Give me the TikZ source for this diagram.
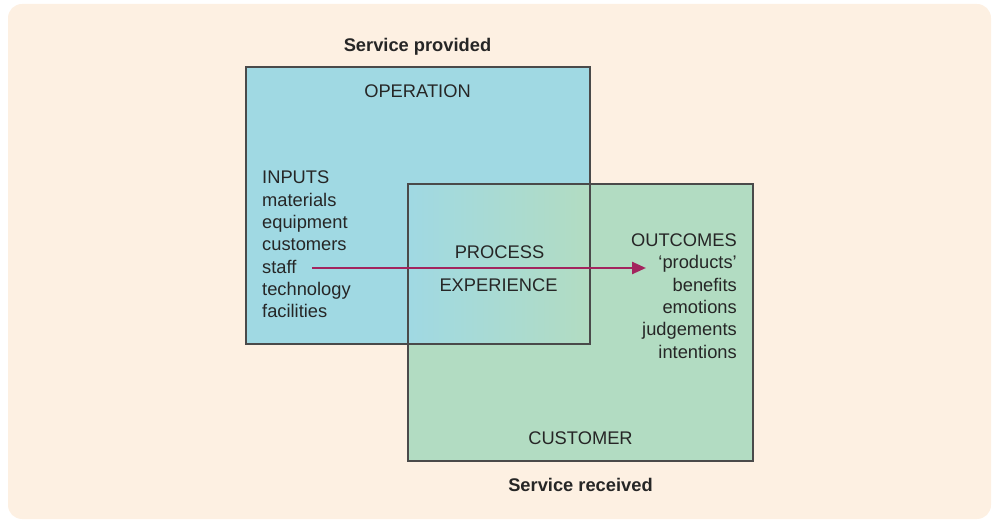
\documentclass[tikz,border=0pt]{standalone}
\usepackage{fontspec}
\setmainfont{Liberation Sans}
\usetikzlibrary{arrows.meta}
\definecolor{bgcol}{HTML}{FDF0E2}
\definecolor{opcol}{HTML}{A0D9E3}
\definecolor{cucol}{HTML}{B2DCC2}
\definecolor{edgecol}{HTML}{4A4A4A}
\definecolor{txtcol}{HTML}{262626}
\definecolor{arrcol}{HTML}{A3245E}
\tikzset{
  boxedge/.style={draw=edgecol, line width=1.1pt},
  lbl/.style={inner sep=0pt, text=txtcol, font=\fontsize{18.3}{22.3}\selectfont},
  title/.style={inner sep=0pt, text=txtcol, font=\fontsize{18.3}{22.3}\selectfont\bfseries},
  flow/.style={draw=arrcol, line width=2.4pt, -{Triangle[length=14pt,width=12pt]}}
}
\begin{document}
\begin{tikzpicture}[x=1pt,y=-1pt]
\useasboundingbox (0,0) rectangle (994,521);
\fill[bgcol, rounded corners=14pt] (8,4) rectangle (991,519);
% fills
\fill[opcol] (246,67) rectangle (590,344);
\fill[cucol] (408,184) rectangle (753,461);
\shade[left color=opcol, right color=cucol] (408,184) rectangle (590,344);
% outlines
\draw[boxedge] (246,67) rectangle (590,344);
\draw[boxedge] (408,184) rectangle (753,461);
% titles
\node[title, anchor=base] (sp) at (417.5,51.5) {Service provided};
\node[title, anchor=base] (sr) at (580.5,491.5) {Service received};
\node[lbl, anchor=base] (op) at (417.5,97.5) {OPERATION};
\node[lbl, anchor=base] (cu) at (580.5,444.5) {CUSTOMER};
\node[lbl, anchor=base] (pr) at (499.5,258.5) {PROCESS};
\node[lbl, anchor=base] (ex) at (498.5,291.5) {EXPERIENCE};
% lists
\node[lbl, anchor=north west, align=left] (in) at (262,171)
  {INPUTS\\materials\\equipment\\customers\\staff\\technology\\facilities};
\node[lbl, anchor=north east, align=right] (out) at (737,233.6)
  {OUTCOMES\\`products'\\benefits\\emotions\\judgements\\intentions};
% arrow
\coordinate (a0) at (312,268);
\coordinate (a1) at (646,268);
\draw[flow] (a0) -- (a1);
\end{tikzpicture}
\end{document}
